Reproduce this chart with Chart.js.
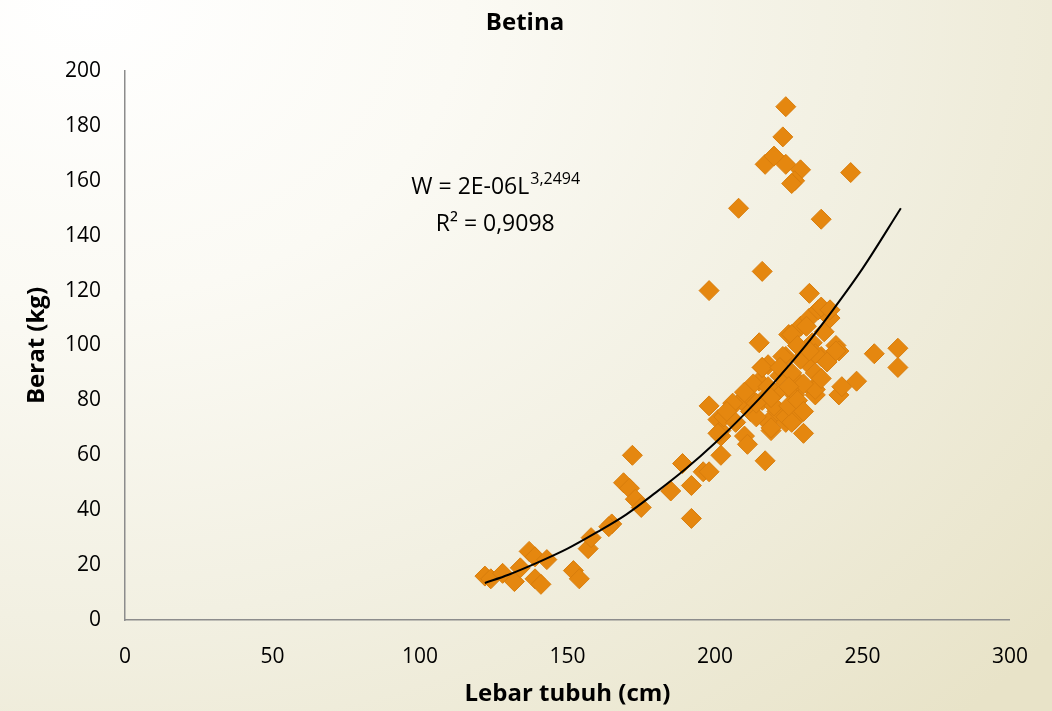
<!DOCTYPE html>
<html>
<head>
<meta charset="utf-8">
<script src="https://cdn.jsdelivr.net/npm/chart.js@4.4.0/dist/chart.umd.min.js"></script>
<style>
  html, body { margin:0; padding:0; }
  body {
    width:1052px; height:711px; overflow:hidden;
    background: radial-gradient(ellipse 120% 140% at 8% 0%, #ffffff 0%, #fbfaf4 30%, #f2f0e2 62%, #e8e3c8 100%);
  }
  #wrap { position:relative; width:1052px; height:711px; }
</style>
</head>
<body>
<div id="wrap"><canvas id="chart" width="1052" height="711"></canvas></div>
<script>
// lebar tubuh (cm) vs berat (kg)
const lebar = [
  122,124,128,132,134,137,139,143,139,141,152,154,157,158,165,164,
  169,171,173,175,172,
  185,189,192,192,196,198,202,202,210,211,217,
  198,201,202,206,209,211,215,216,218,216,221,222,221,218,219,224,227,230,227,228,231,233,234,234,224,225,229,232,235,237,241,242,242,243,248,239,233,236,
  198,216,208,224,223,217,220,224,229,227,226,246,236,232,254,262,262,
  236,239,226,231,215,223,234,216,213,210,206,203,201,219,224,226,234,241,
  212,214,220,225,228,230,218,222,226,229,232,228,219,214,207,204,236,238,230,225
];
const berat = [
  16,15,17,14,19,25,23,22,15,13,18,15,26,30,35,34,
  50,48,44,41,60,
  47,57,49,37,54,54,60,67,67,64,58,
  78,73,69,78,80,82,87,92,93,80,83,89,76,72,69,72,73,68,82,87,94,84,82,90,96,104,107,110,113,105,100,98,82,85,87,110,101,96,
  120,127,150,187,176,166,169,166,164,160,159,163,146,119,97,99,92,
  114,113,104,107,101,96,97,92,86,83,79,74,68,70,74,72,84,98,
  76,74,78,78,80,76,85,92,90,95,98,100,81,79,72,76,88,94,86,85
];

// fitted curve as drawn (W = 2E-06 L^3,2494)
const trendX = [122,130,140,150,160,170,180,190,200,210,220,230,240,250,263];
const trendY = [13.5,16.5,21,26,32,38.5,46.5,55,64.5,75,86.5,99,113,128,150];

const xTicks = [0,50,100,150,200,250,300];
const yTicks = [0,20,40,60,80,100,120,140,160,180,200];

const FONT = "'Open Sans', 'DejaVu Sans', sans-serif";

const textPlugin = {
  id:"texts",
  afterDraw(chart){
    const ctx = chart.ctx;
    const a = chart.chartArea;
    const xs = chart.scales.x, ys = chart.scales.y;
    ctx.save();
    ctx.fillStyle = "#000";
    ctx.textBaseline = "middle";
    ctx.textAlign = "center";
    ctx.font = "bold 24px " + FONT;
    ctx.fillText("Betina", 525, 23);
    ctx.fillText("Lebar tubuh (cm)", (a.left + a.right)/2, 694);
    ctx.save();
    ctx.translate(37, (a.top + a.bottom)/2);
    ctx.rotate(-Math.PI/2);
    ctx.fillText("Berat (kg)", 0, 0);
    ctx.restore();

    // equation label
    const cx = xs.getPixelForValue(125.5);
    const y1 = ys.getPixelForValue(157.5);
    const y2 = ys.getPixelForValue(144);
    const base = "W = 2E-06L";
    ctx.font = "23px " + FONT;
    const wb = ctx.measureText(base).width;
    ctx.font = "16px " + FONT;
    const ws = ctx.measureText("3,2494").width;
    const left = cx - (wb + ws)/2;
    ctx.textAlign = "left";
    ctx.font = "23px " + FONT;
    ctx.fillText(base, left, y1);
    ctx.font = "16px " + FONT;
    ctx.fillText("3,2494", left + wb + 1, y1 - 8);
    ctx.textAlign = "center";
    ctx.font = "23px " + FONT;
    ctx.fillText("R\u00B2 = 0,9098", cx, y2);
    ctx.restore();
  }
};

new Chart(document.getElementById("chart"), {
  type:"scatter",
  data:{
    datasets:[
      {
        label:"Betina",
        data: lebar.map((v,i)=>({x:v, y:berat[i]})),
        pointStyle:"rectRot",
        pointRadius:10,
        pointBackgroundColor:"#E5870F",
        pointBorderColor:"#D87D0C",
        pointBorderWidth:1,
        order:2
      },
      {
        label:"Trend",
        type:"line",
        data: trendX.map((v,i)=>({x:v, y:trendY[i]})),
        borderColor:"#000",
        borderWidth:2,
        pointRadius:0,
        cubicInterpolationMode:"monotone",
        fill:false,
        order:1
      }
    ]
  },
  options:{
    responsive:false,
    animation:false,
    layout:{ padding:{ top:71, right:39, left:0, bottom:0 } },
    plugins:{ legend:{display:false}, tooltip:{enabled:false}, title:{display:false} },
    scales:{
      x:{
        type:"linear", min:0, max:300,
        afterBuildTicks: s => { s.ticks = xTicks.map(v=>({value:v})); },
        afterFit: s => { s.height = 91; },
        grid:{ display:false, drawTicks:false },
        border:{ color:"#8c8c8c", width:1.5 },
        ticks:{ color:"#000", font:{ family:FONT, size:21 }, padding:24, maxRotation:0 }
      },
      y:{
        type:"linear", min:0, max:200,
        afterBuildTicks: s => { s.ticks = yTicks.map(v=>({value:v})); },
        afterFit: s => { s.width = 125; },
        grid:{ display:false, drawTicks:false },
        border:{ color:"#8c8c8c", width:1.5 },
        ticks:{ color:"#000", font:{ family:FONT, size:21 }, padding:24 }
      }
    }
  },
  plugins:[textPlugin]
});
</script>
</body>
</html>
